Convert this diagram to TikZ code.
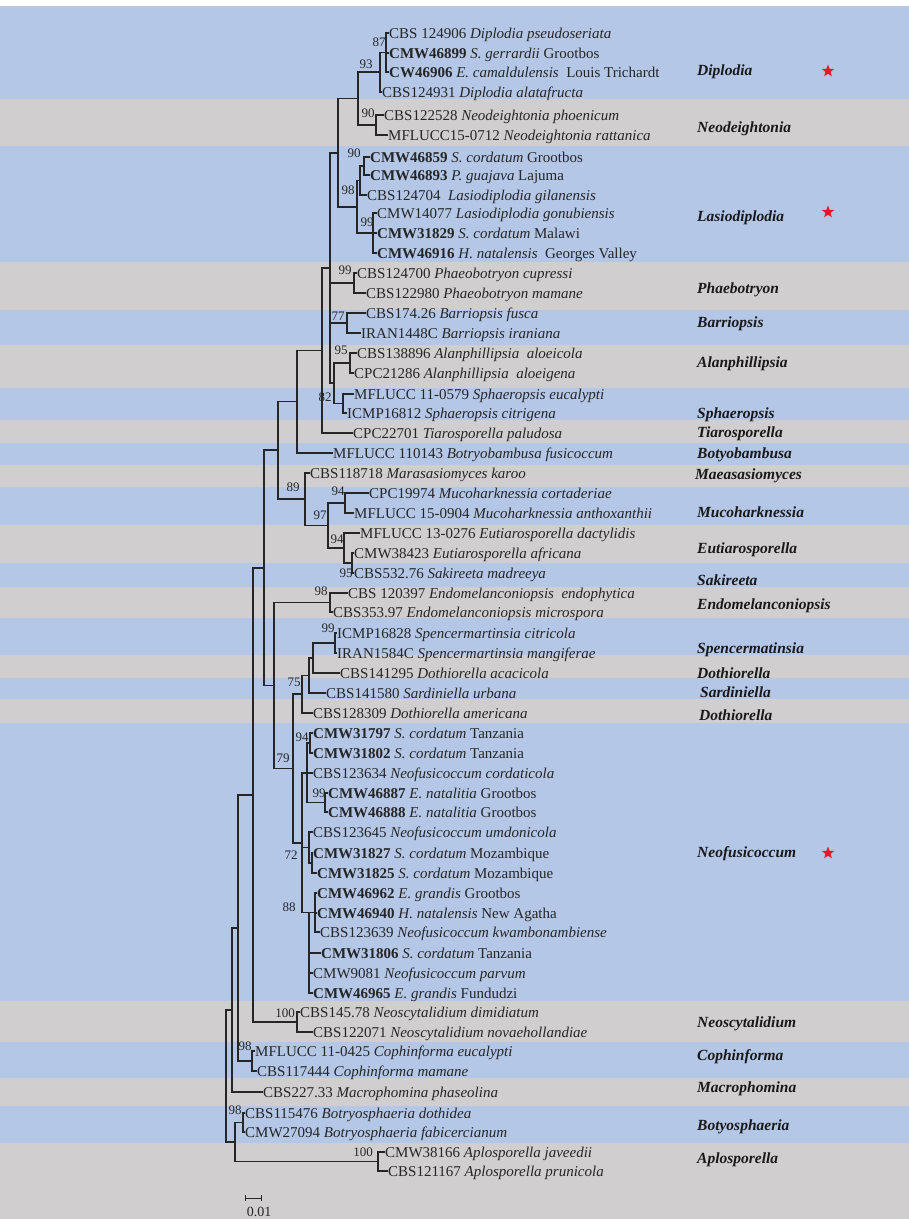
\documentclass[tikz,border=0pt]{standalone}
\usepackage{fontspec}
\setmainfont{Liberation Serif}
\usetikzlibrary{shapes.geometric}
\definecolor{bandblue}{RGB}{180,199,231}
\definecolor{bandgray}{RGB}{208,206,206}
\definecolor{ink}{RGB}{38,38,38}
\definecolor{starred}{RGB}{232,22,36}
\begin{document}
\begin{tikzpicture}[x=1pt,y=-1pt,
  branch/.style={draw=ink, line width=1.1pt},
  leaf/.style={anchor=west, inner sep=0pt, text height=10pt, text depth=0pt,
    font=\fontsize{15}{15}\selectfont, text=ink},
  boot/.style={inner sep=0pt, font=\fontsize{13}{13}\selectfont, text=ink},
  clade/.style={anchor=west, inner sep=0pt, text height=10pt, text depth=0pt,
    font=\fontsize{15.5}{15.5}\selectfont\bfseries\itshape, text=black!90},
  redstar/.style={star, star points=5, star point ratio=2.4, fill=starred,
    draw=none, minimum size=13pt, inner sep=0pt}]

\useasboundingbox (0,0) rectangle (909,1219);
\fill[white] (0,0) rectangle (909,1219);

% genus bands behind the tree
\foreach \ya/\yb/\col in {6/99/bandblue, 99/146/bandgray, 146/262/bandblue,
  262/310/bandgray, 310/345/bandblue, 345/388/bandgray, 388/420/bandblue,
  420/443/bandgray, 443/465/bandblue, 465/487/bandgray, 487/525/bandblue,
  525/563/bandgray, 563/587/bandblue, 587/618/bandgray, 618/655/bandblue,
  655/678/bandgray, 678/699/bandblue, 699/723/bandgray, 723/1001/bandblue,
  1001/1042/bandgray, 1042/1078/bandblue, 1078/1106/bandgray,
  1106/1143/bandblue, 1143/1219/bandgray}
  \fill[\col] (0,\ya) rectangle (909,\yb);

% internal nodes
\coordinate (n87) at (386,52.5);
\coordinate (d93) at (380,72);
\coordinate (n90a) at (376,125);
\coordinate (x1) at (358,98.5);
\coordinate (l90) at (364,166);
\coordinate (mm) at (360,180.5);
\coordinate (l99) at (373,233);
\coordinate (l98) at (357,207);
\coordinate (yy) at (338,153);
\coordinate (p99) at (354,283);
\coordinate (b77) at (347,323);
\coordinate (a95) at (350,363);
\coordinate (s82) at (343,403.5);
\coordinate (qq) at (334,383);
\coordinate (uu) at (330,268);
\coordinate (tt) at (322,350.5);
\coordinate (vv) at (297,401.75);
\coordinate (m94) at (345,503);
\coordinate (zz) at (352,563);
\coordinate (e94) at (344,548);
\coordinate (h97) at (328,525.5);
\coordinate (g89) at (305,499);
\coordinate (ww) at (278,450);
\coordinate (en98) at (330,602.5);
\coordinate (sp99) at (335,643);
\coordinate (dd2) at (313,658);
\coordinate (dd3) at (309,675.5);
\coordinate (d75) at (302,694);
\coordinate (n94) at (310,743);
\coordinate (n99) at (325,802.5);
\coordinate (oo) at (307,773);
\coordinate (n72b) at (312,863);
\coordinate (n72) at (309,847.5);
\coordinate (n88) at (315,912.5);
\coordinate (g2) at (309,912.5);
\coordinate (nf) at (302,843);
\coordinate (f79) at (293,768.5);
\coordinate (kk) at (274,685.5);
\coordinate (rr) at (264,568);
\coordinate (nsc) at (297,1022);
\coordinate (cn) at (253,795);
\coordinate (co98) at (252,1061);
\coordinate (cm) at (238,928);
\coordinate (mp) at (232,1010);
\coordinate (bo98) at (243,1122.5);
\coordinate (ap100) at (378,1161.5);
\coordinate (bx) at (235,1142);
\coordinate (root) at (226,1076);

% terminal taxa
\node[leaf] (t1) at (389,33) {CBS 124906 \textit{Diplodia pseudoseriata}};
\node[leaf] (t2) at (389,53) {\textbf{CMW46899} \textit{S. gerrardii} Grootbos};
\node[leaf] (t3) at (389,72) {\textbf{CW46906} \textit{E. camaldulensis}\ \ Louis Trichardt};
\node[leaf] (t4) at (382,92) {CBS124931 \textit{Diplodia alatafructa}};
\node[leaf] (t5) at (384,115) {CBS122528 \textit{Neodeightonia phoenicum}};
\node[leaf] (t6) at (388,135) {MFLUCC15-0712 \textit{Neodeightonia rattanica}};
\node[leaf] (t7) at (370,157) {\textbf{CMW46859} \textit{S. cordatum} Grootbos};
\node[leaf] (t8) at (370,175) {\textbf{CMW46893} \textit{P. guajava} Lajuma};
\node[leaf] (t9) at (367,195) {CBS124704\ \ \textit{Lasiodiplodia gilanensis}};
\node[leaf] (t10) at (377,213) {CMW14077 \textit{Lasiodiplodia gonubiensis}};
\node[leaf] (t11) at (377,233) {\textbf{CMW31829} \textit{S. cordatum} Malawi};
\node[leaf] (t12) at (377,253) {\textbf{CMW46916} \textit{H. natalensis}\ \ Georges Valley};
\node[leaf] (t13) at (357,273) {CBS124700 \textit{Phaeobotryon cupressi}};
\node[leaf] (t14) at (366,293) {CBS122980 \textit{Phaeobotryon mamane}};
\node[leaf] (t15) at (366,313) {CBS174.26 \textit{Barriopsis fusca}};
\node[leaf] (t16) at (361,333) {IRAN1448C \textit{Barriopsis iraniana}};
\node[leaf] (t17) at (357,353) {CBS138896 \textit{Alanphillipsia\ \ aloeicola}};
\node[leaf] (t18) at (354,373) {CPC21286 \textit{Alanphillipsia\ \ aloeigena}};
\node[leaf] (t19) at (354,394) {MFLUCC 11-0579 \textit{Sphaeropsis eucalypti}};
\node[leaf] (t20) at (347,413) {ICMP16812 \textit{Sphaeropsis citrigena}};
\node[leaf] (t21) at (353,433) {CPC22701 \textit{Tiarosporella paludosa}};
\node[leaf] (t22) at (333,453) {MFLUCC 110143 \textit{Botryobambusa fusicoccum}};
\node[leaf] (t23) at (310,473) {CBS118718 \textit{Marasasiomyces karoo}};
\node[leaf] (t24) at (369,493) {CPC19974 \textit{Mucoharknessia cortaderiae}};
\node[leaf] (t25) at (354,513) {MFLUCC 15-0904 \textit{Mucoharknessia anthoxanthii}};
\node[leaf] (t26) at (360,533) {MFLUCC 13-0276 \textit{Eutiarosporella dactylidis}};
\node[leaf] (t27) at (354,553) {CMW38423 \textit{Eutiarosporella africana}};
\node[leaf] (t28) at (354,573) {CBS532.76 \textit{Sakireeta madreeya}};
\node[leaf] (t29) at (348,593) {CBS 120397 \textit{Endomelanconiopsis\ \ endophytica}};
\node[leaf] (t30) at (333,612) {CBS353.97 \textit{Endomelanconiopsis microspora}};
\node[leaf] (t31) at (337,633) {ICMP16828 \textit{Spencermartinsia citricola}};
\node[leaf] (t32) at (337,653) {IRAN1584C \textit{Spencermartinsia mangiferae}};
\node[leaf] (t33) at (340,673) {CBS141295 \textit{Dothiorella acacicola}};
\node[leaf] (t34) at (326,693) {CBS141580 \textit{Sardiniella urbana}};
\node[leaf] (t35) at (313,713) {CBS128309 \textit{Dothiorella americana}};
\node[leaf] (t36) at (313,733) {\textbf{CMW31797} \textit{S. cordatum} Tanzania};
\node[leaf] (t37) at (313,753) {\textbf{CMW31802} \textit{S. cordatum} Tanzania};
\node[leaf] (t38) at (313,773) {CBS123634 \textit{Neofusicoccum cordaticola}};
\node[leaf] (t39) at (328,793) {\textbf{CMW46887} \textit{E. natalitia} Grootbos};
\node[leaf] (t40) at (328,812) {\textbf{CMW46888} \textit{E. natalitia} Grootbos};
\node[leaf] (t41) at (313,832) {CBS123645 \textit{Neofusicoccum umdonicola}};
\node[leaf] (t42) at (313,853) {\textbf{CMW31827} \textit{S. cordatum} Mozambique};
\node[leaf] (t43) at (317,873) {\textbf{CMW31825} \textit{S. cordatum} Mozambique};
\node[leaf] (t44) at (317,893) {\textbf{CMW46962} \textit{E. grandis} Grootbos};
\node[leaf] (t45) at (317,913) {\textbf{CMW46940} \textit{H. natalensis} New Agatha};
\node[leaf] (t46) at (320,932) {CBS123639 \textit{Neofusicoccum kwambonambiense}};
\node[leaf] (t47) at (321,953) {\textbf{CMW31806} \textit{S. cordatum} Tanzania};
\node[leaf] (t48) at (313,973) {CMW9081 \textit{Neofusicoccum parvum}};
\node[leaf] (t49) at (313,993) {\textbf{CMW46965} \textit{E. grandis} Fundudzi};
\node[leaf] (t50) at (300,1012) {CBS145.78 \textit{Neoscytalidium dimidiatum}};
\node[leaf] (t51) at (313,1032) {CBS122071 \textit{Neoscytalidium novaehollandiae}};
\node[leaf] (t52) at (255,1051) {MFLUCC 11-0425 \textit{Cophinforma eucalypti}};
\node[leaf] (t53) at (257,1071) {CBS117444 \textit{Cophinforma mamane}};
\node[leaf] (t54) at (263,1092) {CBS227.33 \textit{Macrophomina phaseolina}};
\node[leaf] (t55) at (245,1113) {CBS115476 \textit{Botryosphaeria dothidea}};
\node[leaf] (t56) at (245,1132) {CMW27094 \textit{Botryosphaeria fabicercianum}};
\node[leaf] (t57) at (385,1152) {CMW38166 \textit{Aplosporella javeedii}};
\node[leaf] (t58) at (388,1171) {CBS121167 \textit{Aplosporella prunicola}};

% branches: parent |- child
\foreach \p/\c in {n87/t1.west, n87/t2.west, n87/t3.west, d93/n87, d93/t4.west,
  n90a/t5.west, n90a/t6.west, x1/d93, x1/n90a,
  l90/t7.west, l90/t8.west, mm/l90, mm/t9.west,
  l99/t10.west, l99/t11.west, l99/t12.west, l98/mm, l98/l99, yy/x1, yy/l98,
  p99/t13.west, p99/t14.west, b77/t15.west, b77/t16.west,
  a95/t17.west, a95/t18.west, s82/t19.west, s82/t20.west, qq/a95, qq/s82,
  uu/yy, uu/p99, uu/b77, uu/qq, tt/uu, tt/t21.west, vv/tt, vv/t22.west,
  m94/t24.west, m94/t25.west, zz/t27.west, zz/t28.west, e94/t26.west, e94/zz,
  h97/m94, h97/e94, g89/t23.west, g89/h97, ww/vv, ww/g89,
  en98/t29.west, en98/t30.west, sp99/t31.west, sp99/t32.west,
  dd2/sp99, dd2/t33.west, dd3/dd2, dd3/t34.west, d75/dd3, d75/t35.west,
  n94/t36.west, n94/t37.west, n99/t39.west, n99/t40.west,
  oo/n94, oo/t38.west, oo/n99,
  n72b/t42.west, n72b/t43.west, n72/t41.west, n72/n72b,
  n88/t44.west, n88/t45.west, n88/t46.west,
  g2/t47.west, g2/t48.west, g2/t49.west,
  nf/oo, nf/n72, nf/n88, f79/d75, f79/nf, kk/en98, kk/f79, rr/ww, rr/kk,
  nsc/t50.west, nsc/t51.west, cn/rr, cn/nsc,
  co98/t52.west, co98/t53.west, cm/cn, cm/co98, mp/cm, mp/t54.west,
  bo98/t55.west, bo98/t56.west, ap100/t57.west, ap100/t58.west,
  bx/bo98, bx/ap100, root/mp, root/bx}
  \draw[branch] (\p) |- (\c);

% bootstrap support values
\node[boot] (bs87) at (379,42) {87};
\node[boot] (bs93) at (366,64) {93};
\node[boot] (bs90a) at (368,113) {90};
\node[boot] (bs90b) at (354,153) {90};
\node[boot] (bs98a) at (348,190) {98};
\node[boot] (bs99a) at (367,222) {99};
\node[boot] (bs99b) at (345,270) {99};
\node[boot] (bs77) at (338,316) {77};
\node[boot] (bs95a) at (341,350) {95};
\node[boot] (bs82) at (325,397) {82};
\node[boot] (bs89) at (293,487) {89};
\node[boot] (bs94a) at (338,491) {94};
\node[boot] (bs97) at (320,515) {97};
\node[boot] (bs94b) at (337,539) {94};
\node[boot] (bs95b) at (346,573) {95};
\node[boot] (bs98b) at (321,591) {98};
\node[boot] (bs99c) at (328,628) {99};
\node[boot] (bs75) at (294,682) {75};
\node[boot] (bs94c) at (302,737) {94};
\node[boot] (bs79) at (283,758) {79};
\node[boot] (bs99d) at (319,793) {99};
\node[boot] (bs72) at (291,855) {72};
\node[boot] (bs88) at (289,907) {88};
\node[boot] (bs100a) at (285,1013) {100};
\node[boot] (bs98c) at (245,1046) {98};
\node[boot] (bs98d) at (235,1110) {98};
\node[boot] (bs100b) at (363,1152) {100};

% genus names
\node[clade] (g1) at (697,70) {Diplodia};
\node[clade] (g2n) at (697,127) {Neodeightonia};
\node[clade] (g3) at (697,216) {Lasiodiplodia};
\node[clade] (g4) at (697,288) {Phaebotryon};
\node[clade] (g5) at (697,322) {Barriopsis};
\node[clade] (g6) at (697,362) {Alanphillipsia};
\node[clade] (g7) at (697,413) {Sphaeropsis};
\node[clade] (g8) at (697,432) {Tiarosporella};
\node[clade] (g9) at (697,453) {Botyobambusa};
\node[clade] (g10) at (695,474) {Maeasasiomyces};
\node[clade] (g11) at (697,512) {Mucoharknessia};
\node[clade] (g12) at (697,548) {Eutiarosporella};
\node[clade] (g13) at (697,580) {Sakireeta};
\node[clade] (g14) at (697,604) {Endomelanconiopsis};
\node[clade] (g15) at (697,648) {Spencermatinsia};
\node[clade] (g16) at (697,673) {Dothiorella};
\node[clade] (g17) at (700,692) {Sardiniella};
\node[clade] (g18) at (699,715) {Dothiorella};
\node[clade] (g19) at (697,852) {Neofusicoccum};
\node[clade] (g20) at (697,1022) {Neoscytalidium};
\node[clade] (g21) at (697,1055) {Cophinforma};
\node[clade] (g22) at (697,1087) {Macrophomina};
\node[clade] (g23) at (697,1125) {Botyosphaeria};
\node[clade] (g24) at (697,1158) {Aplosporella};

\node[redstar] (s1) at (828,71) {};
\node[redstar] (s2) at (828,212) {};
\node[redstar] (s3) at (828,853) {};

% scale bar
\coordinate (sbl) at (245,1198);
\coordinate (sbr) at (261,1198);
\draw[ink, line width=1pt] (sbl) -- (sbr);
\draw[ink, line width=1pt] ([yshift=-3pt]sbl) -- ([yshift=3pt]sbl);
\draw[ink, line width=1pt] ([yshift=-3pt]sbr) -- ([yshift=3pt]sbr);
\node[boot, font=\fontsize{14}{14}\selectfont] (sbt) at (259,1212) {0.01};
\end{tikzpicture}
\end{document}
